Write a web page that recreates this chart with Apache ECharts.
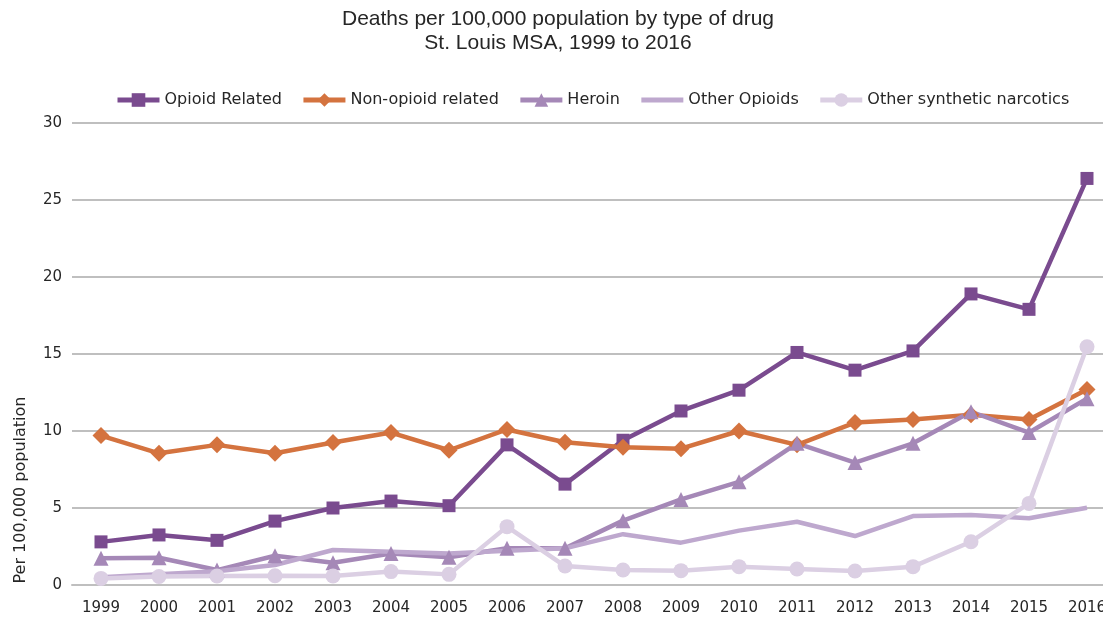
<!DOCTYPE html>
<html>
<head>
<meta charset="utf-8">
<script src="https://cdn.jsdelivr.net/npm/echarts@6/dist/echarts.min.js"></script>
<style>
  html, body { margin: 0; padding: 0; background: #fff; overflow: hidden; }
  #wrap { width: 1103px; height: 618px; overflow: hidden; }
  /* plot area runs a little past the right edge, so the canvas is wider than the window */
  #chart { width: 1116px; height: 618px; }
</style>
</head>
<body>
<div id="wrap"><div id="chart"></div></div>
<script>
// Years on the category axis
const years = ['1999','2000','2001','2002','2003','2004','2005','2006','2007','2008',
               '2009','2010','2011','2012','2013','2014','2015','2016'];

// Deaths per 100,000 population, St. Louis MSA
const opioidRelated = [2.8, 3.25, 2.9, 4.15, 5.0, 5.45, 5.15, 9.1, 6.55, 9.4,
                       11.3, 12.65, 15.1, 13.95, 15.2, 18.9, 17.9, 26.4];
const nonOpioidRelated = [9.7, 8.55, 9.1, 8.55, 9.25, 9.9, 8.75, 10.1, 9.27, 8.95,
                          8.85, 10.0, 9.1, 10.55, 10.75, 11.05, 10.75, 12.7];
const heroin = [1.73, 1.77, 0.97, 1.9, 1.45, 2.05, 1.8, 2.38, 2.38, 4.18,
                5.56, 6.7, 9.2, 7.95, 9.2, 11.25, 9.9, 12.1];
const otherOpioids = [0.5, 0.7, 0.9, 1.3, 2.27, 2.16, 2.05, 2.23, 2.38, 3.3,
                      2.75, 3.53, 4.11, 3.18, 4.48, 4.55, 4.33, 5.02];
const otherSynthetic = [0.43, 0.55, 0.58, 0.6, 0.58, 0.87, 0.69, 3.79, 1.23, 0.97,
                        0.93, 1.19, 1.04, 0.91, 1.19, 2.81, 5.3, 15.47];

const yTicks = { min: 0, max: 30, interval: 5 };

const FONT = '"DejaVu Sans", Verdana, sans-serif';
const TEXT = '#262626';

function lineSeries(name, data, color, symbol, size) {
  return {
    name: name,
    type: 'line',
    data: data,
    symbol: symbol,
    symbolSize: size,
    showSymbol: symbol !== 'none',
    lineStyle: { width: 4.5, color: color },
    itemStyle: { color: color },
    emphasis: { disabled: true },
    animation: false
  };
}

const chart = echarts.init(document.getElementById('chart'), null, { renderer: 'canvas' });

chart.setOption({
  backgroundColor: '#ffffff',
  title: {
    text: 'Deaths per 100,000 population by type of drug\nSt. Louis MSA, 1999 to 2016',
    left: 'center',
    top: 2,
    textStyle: {
      fontFamily: '"Liberation Sans", Arial, sans-serif',
      fontSize: 21,
      fontWeight: 'normal',
      color: TEXT,
      lineHeight: 24
    }
  },
  legend: {
    left: 110,
    top: 87,
    itemWidth: 42,
    itemHeight: 17,
    itemGap: 19,
    lineStyle: { width: 5 },
    textStyle: { fontFamily: FONT, fontSize: 16, color: TEXT },
    data: [
      'Opioid Related',
      'Non-opioid related',
      'Heroin',
      { name: 'Other Opioids', itemStyle: { opacity: 0 } },
      'Other synthetic narcotics'
    ]
  },
  grid: {
    left: 72,
    top: 123,
    bottom: 33,
    right: 0,
    containLabel: false
  },
  xAxis: {
    type: 'category',
    data: years,
    boundaryGap: true,
    axisLine: { show: true, lineStyle: { color: '#BFBFBF', width: 2 } },
    axisTick: { show: false },
    axisLabel: { fontFamily: FONT, fontSize: 15, color: TEXT, margin: 16, interval: 0 }
  },
  yAxis: {
    type: 'value',
    min: yTicks.min,
    max: yTicks.max,
    interval: yTicks.interval,
    axisLine: { show: false },
    axisTick: { show: false },
    splitLine: { lineStyle: { color: '#BFBFBF', width: 2 } },
    axisLabel: { fontFamily: FONT, fontSize: 15, color: TEXT, margin: 10 }
  },
  graphic: [{
    type: 'text',
    x: 21,
    y: 490,
    rotation: Math.PI / 2,
    style: {
      text: 'Per 100,000 population',
      font: '16px "DejaVu Sans", Verdana, sans-serif',
      fill: TEXT,
      textAlign: 'center',
      textVerticalAlign: 'middle'
    }
  }],
  series: [
    lineSeries('Opioid Related', opioidRelated, '#7A4B8F', 'rect', 13),
    lineSeries('Non-opioid related', nonOpioidRelated, '#D4733F', 'diamond', 17),
    lineSeries('Heroin', heroin, '#A588B7', 'triangle', 15),
    lineSeries('Other Opioids', otherOpioids, '#BEA8CE', 'none', 0),
    lineSeries('Other synthetic narcotics', otherSynthetic, '#DBCFE3', 'circle', 15)
  ]
});
</script>
</body>
</html>
